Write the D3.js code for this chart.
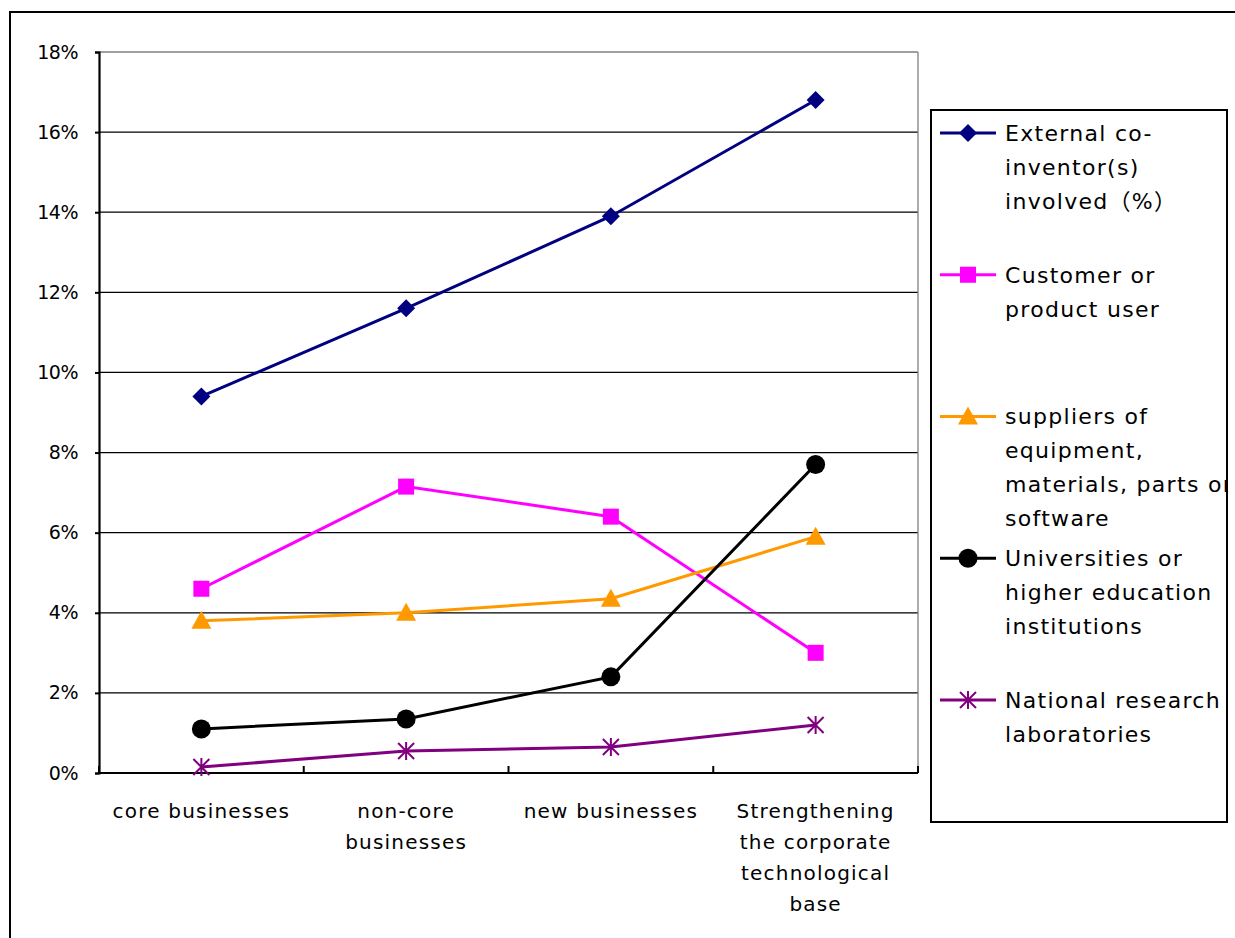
<!DOCTYPE html>
<html><head><meta charset="utf-8">
<script src="https://cdn.jsdelivr.net/npm/d3@7"></script>
<style>
html,body{margin:0;padding:0;background:#fff;}
svg{display:block;}
text{font-family:"DejaVu Sans","Noto Sans CJK JP",sans-serif;fill:#000;}
</style></head>
<body>
<script>
const categories = [
  ["core businesses"],
  ["non-core","businesses"],
  ["new businesses"],
  ["Strengthening","the corporate","technological","base"]
];
const yTicks = [0,2,4,6,8,10,12,14,16,18];
const seriesNames = [
  ["External co-","inventor(s)","involved\uff08%\uff09"],
  ["Customer or","product user"],
  ["suppliers of","equipment,","materials, parts or","software"],
  ["Universities or","higher education","institutions"],
  ["National research","laboratories"]
];
const externalCoInventor = [9.4, 11.6, 13.9, 16.8];
const customerUser = [4.6, 7.15, 6.4, 3.0];
const suppliers = [3.8, 4.0, 4.35, 5.9];
const universities = [1.1, 1.35, 2.4, 7.7];
const nationalLabs = [0.15, 0.55, 0.65, 1.2];
const seriesColors = ["#000080","#FF00FF","#FF9900","#000000","#800080"];
const seriesMarkers = ["diamond","square","triangle","circle","asterisk"];
const seriesValues = [externalCoInventor, customerUser, suppliers, universities, nationalLabs];

const W = 1235, H = 938;
const svg = d3.select("body").append("svg").attr("width", W).attr("height", H);

// outer frame
svg.append("rect").attr("x",10).attr("y",12).attr("width",1300).attr("height",1000)
  .attr("fill","none").attr("stroke","#000").attr("stroke-width",2);

const L = 99, R = 918, T = 52, B = 773;
const x = d3.scaleBand().domain(d3.range(categories.length)).range([L, R]).padding(0);
const y = d3.scaleLinear().domain([0, 18]).range([B, T]);

// gridlines
svg.append("g").selectAll("line").data(yTicks.filter(d => d > 0)).join("line")
  .attr("x1", L).attr("x2", R).attr("y1", d => y(d)).attr("y2", d => y(d))
  .attr("stroke", d => d === 18 ? "#808080" : "#000").attr("stroke-width", 1.3);
// right border of plot
svg.append("line").attr("x1",R).attr("x2",R).attr("y1",T).attr("y2",B)
  .attr("stroke","#808080").attr("stroke-width",1.3);

// y axis
const yAxis = d3.axisLeft(y).tickValues(yTicks).tickFormat(d => d + "%").tickSize(4).tickPadding(17);
const gy = svg.append("g").attr("transform", `translate(${L},0)`).call(yAxis);
gy.select(".domain").attr("stroke","#000").attr("stroke-width",2.2);
gy.selectAll(".tick line").attr("stroke","#000").attr("stroke-width",2);
gy.selectAll(".tick text").attr("font-size",19).attr("font-family",null).attr("fill","#000")
  .attr("letter-spacing","-0.5px");

// x axis (ticks between categories, pointing inside)
const boundaries = d3.range(categories.length + 1).map(i => i === categories.length ? R : x(i));
svg.append("line").attr("x1",L).attr("x2",R).attr("y1",B).attr("y2",B)
  .attr("stroke","#000").attr("stroke-width",2.2);
svg.append("g").selectAll("line").data(boundaries).join("line")
  .attr("x1", d => d).attr("x2", d => d).attr("y1", B).attr("y2", B - 7)
  .attr("stroke","#000").attr("stroke-width",2);

// category labels
const xl = svg.append("g");
categories.forEach((lines, i) => {
  const t = xl.append("text").attr("text-anchor","middle").attr("font-size",20)
    .attr("letter-spacing","1.2px")
    .attr("x", x(i) + x.bandwidth()/2).attr("y", 811);
  lines.forEach((ln, j) => {
    t.append("tspan").attr("x", x(i) + x.bandwidth()/2).attr("dy", j === 0 ? "0.35em" : 31).text(ln);
  });
});

function drawMarker(g, type, color, cx, cy) {
  if (type === "diamond") {
    g.append("path").attr("d", `M${cx},${cy-9}L${cx+9},${cy}L${cx},${cy+9}L${cx-9},${cy}Z`).attr("fill", color);
  } else if (type === "square") {
    g.append("rect").attr("x", cx-8).attr("y", cy-8).attr("width",16).attr("height",16).attr("fill", color);
  } else if (type === "triangle") {
    g.append("path").attr("d", `M${cx},${cy-10}L${cx+10},${cy+8}L${cx-10},${cy+8}Z`).attr("fill", color);
  } else if (type === "circle") {
    g.append("circle").attr("cx",cx).attr("cy",cy).attr("r",9.5).attr("fill", color);
  } else if (type === "asterisk") {
    const s = 8;
    g.append("path").attr("d",
      `M${cx-s},${cy-s}L${cx+s},${cy+s}M${cx-s},${cy+s}L${cx+s},${cy-s}M${cx},${cy-s-1}L${cx},${cy+s+1}`)
      .attr("stroke", color).attr("stroke-width",2).attr("fill","none");
  }
}

const line = d3.line().x((d,i) => x(i) + x.bandwidth()/2).y(d => y(d));
seriesValues.forEach((vals, s) => {
  const g = svg.append("g");
  g.append("path").datum(vals).attr("d", line).attr("fill","none")
    .attr("stroke", seriesColors[s]).attr("stroke-width",3);
  vals.forEach((v, i) => drawMarker(g, seriesMarkers[s], seriesColors[s], x(i) + x.bandwidth()/2, y(v)));
});

// legend
svg.append("defs").append("clipPath").attr("id","legclip")
  .append("rect").attr("x",931).attr("y",110).attr("width",295).attr("height",712);
const lg = svg.append("g");
lg.append("rect").attr("x",931).attr("y",110).attr("width",296).attr("height",712)
  .attr("fill","#fff").attr("stroke","none");
const lgc = lg.append("g").attr("clip-path","url(#legclip)");
const legendY = d3.scaleLinear().domain([0, 4]).range([133, 700]);
seriesNames.forEach((lines, s) => {
  const cy = legendY(s);
  lgc.append("line").attr("x1",940).attr("x2",996).attr("y1",cy).attr("y2",cy)
    .attr("stroke", seriesColors[s]).attr("stroke-width",3);
  drawMarker(lgc, seriesMarkers[s], seriesColors[s], 968, cy);
  const t = lgc.append("text").attr("font-size",22).attr("letter-spacing","1.3px")
    .attr("x",1005).attr("y",cy);
  lines.forEach((ln, j) => {
    t.append("tspan").attr("x",1005).attr("dy", j === 0 ? "0.36em" : 34).text(ln);
  });
});
lg.append("rect").attr("x",931).attr("y",110).attr("width",296).attr("height",712)
  .attr("fill","none").attr("stroke","#000").attr("stroke-width",2);
</script>
</body></html>
